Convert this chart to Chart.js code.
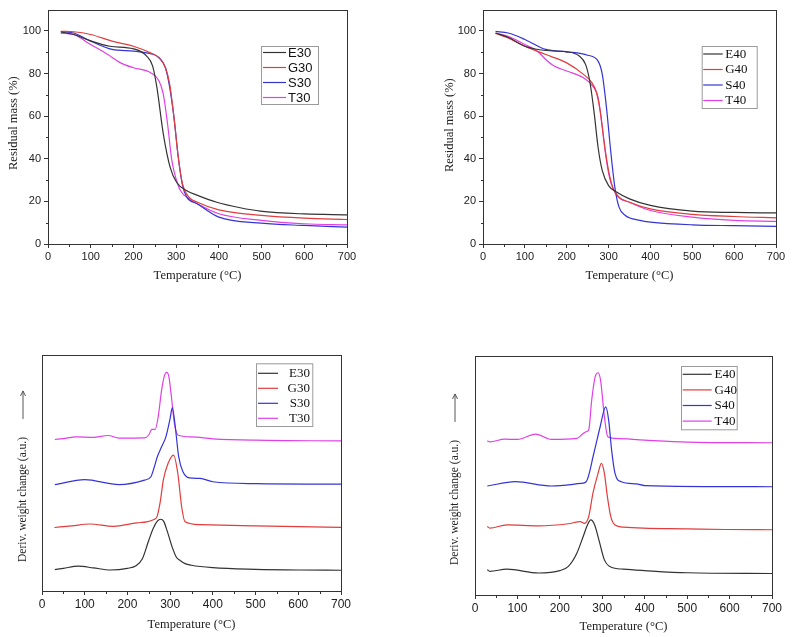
<!DOCTYPE html>
<html>
<head>
<meta charset="utf-8">
<script src="https://cdn.jsdelivr.net/npm/chart.js@4.4.1/dist/chart.umd.min.js"></script>
<style>
  body { margin: 0; background: #fff; }
  #wrap { position: relative; width: 800px; height: 637px; }
  canvas { position: absolute; }
</style>
</head>
<body>
<div id="wrap">
  <canvas id="c1" width="400" height="290" style="left:0;top:0"></canvas>
  <canvas id="c2" width="400" height="290" style="left:400px;top:0"></canvas>
  <canvas id="c3" width="400" height="337" style="left:0;top:300px"></canvas>
  <canvas id="c4" width="400" height="337" style="left:400px;top:300px"></canvas>
</div>
<script>
// couleurs des séries
const colE = '#333333', colG = '#e23c3c', colS = '#3434d6', colT = '#e040e6';

// --- TGA, 30 % ---
const e30T = [30, 60, 100, 145, 200, 231, 245, 255, 270, 286, 301, 325, 350, 395, 450, 497, 600, 700];
const e30V = [99.5, 98.3, 95.3, 92.8, 91.6, 88.2, 83.5, 73.4, 51.6, 36, 29, 25, 22.8, 19.6, 17, 15.4, 14.1, 13.7];
const g30T = [30, 60, 100, 150, 200, 240, 260, 275, 285, 295, 305, 315, 330, 350, 400, 500, 600, 700];
const g30V = [99.8, 99.6, 98.3, 95.2, 92.8, 89.7, 87.4, 82.7, 74.9, 59.3, 40.7, 28.2, 22, 19.6, 16, 13.4, 12.1, 11.5];
const s30T = [30, 60, 100, 150, 200, 230, 260, 275, 285, 295, 305, 315, 325, 350, 400, 500, 600, 700];
const s30V = [99.7, 99, 95.2, 91.3, 90.5, 89.7, 87.4, 82.7, 73.4, 59.3, 40.7, 27.4, 22, 18.8, 12.6, 9.8, 8.7, 7.9];
const t30T = [30, 60, 100, 140, 170, 200, 240, 260, 270, 280, 290, 300, 310, 330, 350, 400, 500, 600, 700];
const t30V = [99, 98.3, 93.6, 88.9, 85, 82.7, 80.4, 76.5, 70.2, 56.2, 39.1, 30.5, 25.1, 21.2, 18.8, 14.2, 11.1, 9.5, 9.0];

// --- TGA, 40 % ---
const e40T = [30, 60, 100, 150, 200, 230, 245, 255, 265, 275, 285, 300, 320, 350, 400, 500, 600, 700];
const e40V = [99, 97, 92.8, 90.8, 90.2, 88.2, 84.3, 76.5, 62.5, 45.3, 34.4, 27.4, 24.3, 21.2, 18.1, 15.4, 14.8, 14.6];
const g40T = [30, 60, 100, 150, 200, 240, 260, 270, 280, 290, 300, 310, 325, 350, 400, 500, 600, 700];
const g40V = [98.8, 96.7, 92.8, 88.9, 85, 79.6, 75.7, 71.8, 62.5, 46.9, 34.4, 26.6, 22, 19.6, 16.5, 13.9, 12.9, 12.3];
const s40T = [30, 60, 100, 150, 200, 250, 275, 285, 295, 305, 315, 325, 340, 375, 400, 500, 600, 700];
const s40V = [99.8, 99, 96, 91.3, 90.2, 88.6, 85.8, 79.6, 64, 43.8, 26.6, 17.3, 13.4, 11.1, 10.3, 9.0, 8.6, 8.3];
const t40T = [30, 60, 100, 130, 150, 170, 200, 240, 265, 275, 285, 295, 305, 320, 350, 400, 500, 600, 700];
const t40V = [99, 97.5, 93.6, 90.5, 86.6, 83.5, 81.2, 78, 73.4, 68.7, 54.7, 39.1, 29, 22.7, 19.6, 15.7, 12.6, 11.1, 10.6];

// --- DTG, 30 % (unités arbitraires, courbes décalées) ---
const de30T = [30, 50, 85, 120, 160, 200, 220, 235, 250, 260, 270, 278, 285, 293, 305, 315, 323, 335, 350, 400, 500, 600, 700];
const de30V = [9.05, 9.6, 10.5, 9.8, 8.9, 9.6, 10.7, 13.7, 21.5, 26.4, 29.6, 30.4, 29.5, 25.5, 18.5, 14.2, 13.0, 11.6, 10.9, 9.9, 9.2, 8.9, 8.8];
const dg30T = [29, 70, 112, 167, 222, 245, 262, 269, 277, 284, 295, 308, 318, 327, 335, 370, 500, 700];
const dg30V = [26.9, 27.6, 28.4, 27.4, 28.9, 29.3, 30.3, 31.4, 38, 47.0, 54.0, 57.6, 49.8, 35.6, 29.3, 28.1, 27.6, 27.0];
const ds30T = [30, 100, 180, 240, 255, 262, 270, 280, 290, 300, 305, 312, 320, 330, 345, 370, 400, 500, 700];
const ds30V = [45.1, 47.2, 45.1, 47.0, 48.4, 52, 56.9, 61.1, 65.3, 73.1, 77.7, 69.6, 56.9, 50.5, 47.9, 47.7, 46.3, 45.5, 45.3];
const dt30T = [30, 50, 80, 120, 155, 180, 240, 250, 257, 265, 272, 280, 287, 292, 297, 303, 310, 318, 350, 400, 500, 700];
const dt30V = [64.2, 64.6, 65.3, 65.1, 65.9, 64.8, 64.9, 66.1, 68.5, 68.5, 73.8, 85.1, 91.5, 92.6, 90.8, 82.3, 71.0, 66.1, 65.3, 64.5, 63.9, 63.6];

// --- DTG, 40 % ---
const de40T = [29, 35, 75, 150, 200, 220, 240, 255, 265, 273, 282, 292, 305, 320, 350, 400, 500, 700];
const de40V = [10.6, 9.9, 10.8, 9.2, 10.2, 12.0, 17.5, 24.5, 29.3, 31.4, 29.3, 23.1, 14.7, 11.7, 10.8, 10.2, 9.3, 9.0];
const dg40T = [29, 35, 75, 150, 220, 248, 258, 268, 278, 290, 298, 305, 312, 320, 330, 350, 500, 590, 700];
const dg40V = [28.7, 28.0, 29.3, 28.9, 29.8, 30.7, 30.0, 32.8, 42.6, 50.9, 55.1, 50.9, 41.2, 32.8, 29.3, 28.4, 27.7, 27.4, 27.3];
const ds40T = [29, 95, 180, 250, 262, 280, 295, 308, 315, 322, 330, 345, 380, 400, 700];
const ds40V = [45.6, 47.4, 45.6, 46.7, 47.4, 59.2, 70.4, 78.7, 73.2, 60.6, 50.9, 47.4, 46.5, 45.8, 45.3];
const dt40T = [29, 35, 70, 100, 143, 180, 240, 255, 262, 268, 275, 283, 290, 296, 305, 313, 330, 400, 500, 700];
const dt40V = [64.5, 64.1, 65.2, 65.1, 67.3, 65.1, 65.5, 67.6, 68.3, 69.0, 81.5, 91.2, 93.0, 89.8, 74.5, 66.2, 65.5, 64.8, 64.0, 63.7];

const xTicks = [0, 100, 200, 300, 400, 500, 600, 700];
const yTicksTga = [0, 20, 40, 60, 80, 100];

const serif = '"Liberation Serif", "Times New Roman", serif';
const pts = (t, v) => t.map((x, i) => ({ x: x, y: v[i] }));

function ds(label, t, v, color) {
    return { label: label, data: pts(t, v), borderColor: color, backgroundColor: color,
             borderWidth: 1.2, pointRadius: 0, tension: 0.4, cubicInterpolationMode: 'monotone' };
}

// cadre + petites graduations + légende encadrée + titre vertical
const decor = {
    id: 'decor',
    afterDraw(chart, args, o) {
        const ctx = chart.ctx, a = chart.chartArea;
        ctx.save();
        ctx.strokeStyle = '#333';
        ctx.lineWidth = 1;
        ctx.strokeRect(Math.round(a.left) + 0.5, Math.round(a.top) + 0.5, Math.round(a.right - a.left), Math.round(a.bottom - a.top));
        // graduations mineures
        const xs = chart.scales.x, ys = chart.scales.y;
        const bot = Math.round(a.bottom) + 0.5, lft = Math.round(a.left) + 0.5;
        ctx.beginPath();
        for (let v = 50; v < 700; v += 100) {
            const px = Math.round(xs.getPixelForValue(v)) + 0.5;
            ctx.moveTo(px, bot); ctx.lineTo(px, bot + 2.5);
        }
        if (o.yMinor) {
            for (let v = 10; v < 110; v += 20) {
                const py = Math.round(ys.getPixelForValue(v)) + 0.5;
                ctx.moveTo(lft, py); ctx.lineTo(lft - 2.5, py);
            }
        }
        ctx.stroke();
        // légende
        const L = o.legend;
        ctx.strokeStyle = '#9a9a9a';
        ctx.strokeRect(L.x + 0.5, L.y + 0.5, L.w, L.h);
        ctx.font = L.font;
        ctx.textBaseline = 'middle';
        chart.data.datasets.forEach((d, i) => {
            const y = L.y + L.first + i * L.step;
            ctx.strokeStyle = d.borderColor;
            ctx.lineWidth = 1.2;
            ctx.beginPath();
            ctx.moveTo(L.x + L.l0, y); ctx.lineTo(L.x + L.l1, y);
            ctx.stroke();
            ctx.fillStyle = '#111';
            ctx.textAlign = L.align;
            ctx.fillText(d.label, L.x + L.tx, y + 0.5);
        });
        // titre de l'axe y (texte vertical)
        const t = o.yTitle;
        ctx.translate(t.x, t.y);
        ctx.rotate(-Math.PI / 2);
        ctx.fillStyle = '#222';
        ctx.font = t.size + 'px ' + serif;
        ctx.textAlign = 'left';
        ctx.textBaseline = 'middle';
        ctx.fillText(t.text, 0, 0);
        if (t.arrow) {
            const w = ctx.measureText(t.text).width;
            const s = w + 18, e = s + 28;
            ctx.strokeStyle = '#555';
            ctx.lineWidth = 1;
            ctx.beginPath();
            ctx.moveTo(s, 0); ctx.lineTo(e, 0);
            ctx.moveTo(e, 0); ctx.lineTo(e - 5, -2.5);
            ctx.moveTo(e, 0); ctx.lineTo(e - 5, 2.5);
            ctx.stroke();
        }
        ctx.restore();
    }
};

function makeChart(id, sets, p) {
    const tickFont = { family: '"Liberation Sans", Arial, sans-serif', size: p.tickSize };
    return new Chart(document.getElementById(id), {
        type: 'line',
        data: { datasets: sets },
        options: {
            responsive: false,
            animation: false,
            layout: { padding: { top: p.top, right: p.right, left: 0, bottom: 0 } },
            plugins: {
                legend: { display: false },
                tooltip: { enabled: false },
                decor: { legend: p.legend, yMinor: p.yMinor, yTitle: p.yTitle }
            },
            scales: {
                x: {
                    type: 'linear', min: 0, max: 700,
                    afterBuildTicks: s => { s.ticks = xTicks.map(v => ({ value: v })); },
                    afterFit: s => { s.height = p.xh; },
                    grid: { drawOnChartArea: false, tickLength: 4, color: '#333' },
                    border: { display: false },
                    ticks: { font: tickFont, color: '#222', maxRotation: 0, padding: 2 },
                    title: { display: true, text: 'Temperature (°C)', color: '#222',
                             font: { family: serif, size: 12.5 },
                             padding: { top: 0, bottom: p.xtPad } }
                },
                y: {
                    type: 'linear', min: p.ymin, max: p.ymax,
                    afterBuildTicks: s => { s.ticks = p.yTicks.map(v => ({ value: v })); },
                    afterFit: s => { s.width = p.yw; },
                    grid: { drawOnChartArea: false, drawTicks: p.yTicks.length > 0, tickLength: 4, color: '#333' },
                    border: { display: false },
                    ticks: { display: p.yTicks.length > 0, font: tickFont, color: '#222', padding: 3 }
                }
            }
        },
        plugins: [decor]
    });
}

makeChart('c1', [ds('E30', e30T, e30V, colE), ds('G30', g30T, g30V, colG), ds('S30', s30T, s30V, colS), ds('T30', t30T, t30V, colT)], {
    top: 8, right: 53, xh: 46, yw: 48, ymin: 0, ymax: 110, yTicks: yTicksTga, yMinor: true, tickSize: 11,
    yTitle: { text: 'Residual mass (%)', x: 14, y: 170, size: 12.5 }, xtPad: 7,
    legend: { x: 261, y: 46, w: 57, h: 58, first: 6.5, step: 15, l0: 2, l1: 25, tx: 27, align: 'left', font: '13px "Liberation Sans", Arial, sans-serif' }
});
makeChart('c2', [ds('E40', e40T, e40V, colE), ds('G40', g40T, g40V, colG), ds('S40', s40T, s40V, colS), ds('T40', t40T, t40V, colT)], {
    top: 8, right: 24, xh: 46, yw: 83, ymin: 0, ymax: 110, yTicks: yTicksTga, yMinor: true, tickSize: 11,
    yTitle: { text: 'Residual mass (%)', x: 50, y: 172, size: 12.5 }, xtPad: 7,
    legend: { x: 301.7, y: 46, w: 55, h: 62, first: 8, step: 15.5, l0: 1.5, l1: 21, tx: 23.5, align: 'left', font: '13px ' + serif }
});
makeChart('c3', [ds('E30', de30T, de30V, colE), ds('G30', dg30T, dg30V, colG), ds('S30', ds30T, ds30V, colS), ds('T30', dt30T, dt30V, colT)], {
    top: 55, right: 59, xh: 46, yw: 42, ymin: 0, ymax: 100, yTicks: [], yMinor: false, tickSize: 12,
    xtPad: 5, yTitle: { text: 'Deriv. weight change (a.u.)', x: 23, y: 262, size: 11.5, arrow: true },
    legend: { x: 256, y: 63.3, w: 56.3, h: 62.7, first: 10, step: 15, l0: 2, l1: 22, tx: 54, align: 'right', font: '13px ' + serif }
});
makeChart('c4', [ds('E40', de40T, de40V, colE), ds('G40', dg40T, dg40V, colG), ds('S40', ds40T, ds40V, colS), ds('T40', dt40T, dt40V, colT)], {
    top: 56, right: 28, xh: 42, yw: 75, ymin: 0, ymax: 100, yTicks: [], yMinor: false, tickSize: 12,
    xtPad: 3, yTitle: { text: 'Deriv. weight change (a.u.)', x: 55, y: 265, size: 11.5, arrow: true },
    legend: { x: 281, y: 66, w: 55.7, h: 63.3, first: 8.3, step: 15.6, l0: 1.7, l1: 30.7, tx: 33.5, align: 'left', font: '13px ' + serif }
});
</script>
</body>
</html>
